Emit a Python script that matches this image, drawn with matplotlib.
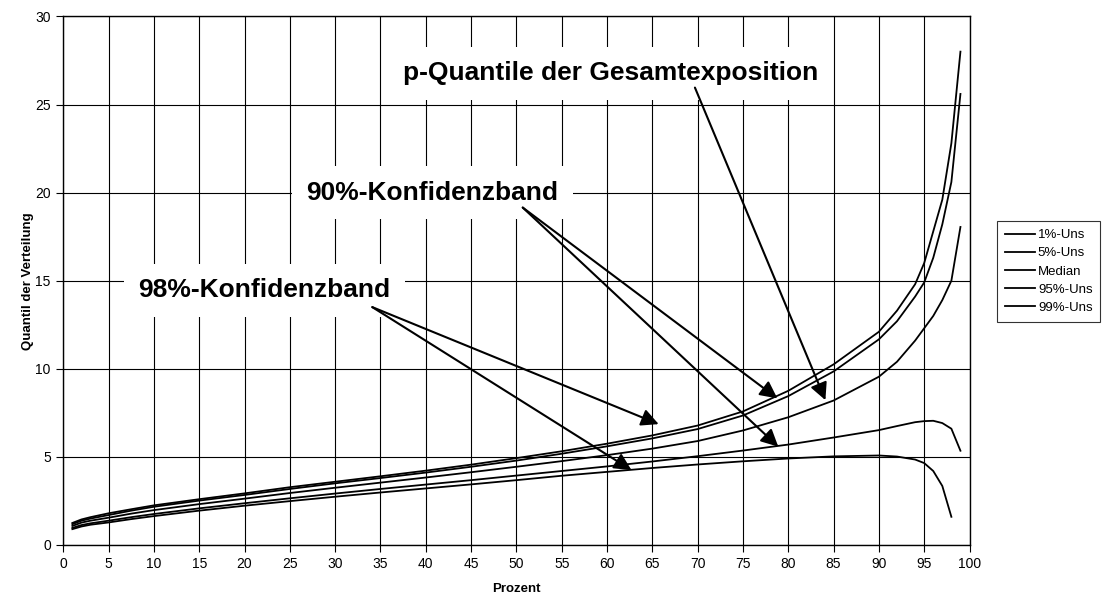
import matplotlib.pyplot as plt
from matplotlib.lines import Line2D

plt.rcParams['font.family'] = ['Liberation Sans', 'DejaVu Sans']

# Prozent-Stützstellen und Quantile je Kurve
prozent = [1, 2, 3, 5, 7.5, 10, 15, 20, 25, 30, 35, 40, 45, 50, 55, 60, 65, 70,
           75, 80, 85, 90, 92, 94, 95, 96, 97, 98, 99]

uns_99 = [1.25, 1.45, 1.58, 1.80, 2.03, 2.25, 2.60, 2.93, 3.28, 3.59, 3.90, 4.22,
          4.56, 4.93, 5.32, 5.75, 6.22, 6.78, 7.58, 8.75, 10.25, 12.10, 13.30,
          14.80, 16.00, 17.80, 19.60, 22.80, 28.00]
uns_95 = [1.18, 1.38, 1.50, 1.70, 1.95, 2.17, 2.52, 2.84, 3.18, 3.50, 3.80, 4.11,
          4.44, 4.79, 5.18, 5.60, 6.05, 6.58, 7.35, 8.45, 9.85, 11.67, 12.70,
          14.10, 14.90, 16.30, 18.20, 20.60, 25.60]
median = [1.08, 1.27, 1.38, 1.55, 1.78, 1.98, 2.32, 2.63, 2.95, 3.25, 3.54, 3.83,
          4.13, 4.44, 4.76, 5.10, 5.47, 5.90, 6.50, 7.25, 8.20, 9.55, 10.40,
          11.60, 12.30, 13.00, 13.90, 15.00, 18.05]
uns_5 = [0.97, 1.13, 1.23, 1.38, 1.58, 1.76, 2.08, 2.37, 2.65, 2.92, 3.18, 3.43,
         3.68, 3.94, 4.20, 4.46, 4.74, 5.04, 5.36, 5.70, 6.10, 6.52, 6.75,
         6.97, 7.03, 7.05, 6.92, 6.60, 5.35]
# 1%-Kurve endet bei 98 %
uns_1 = [0.90, 1.05, 1.15, 1.28, 1.47, 1.64, 1.95, 2.23, 2.49, 2.74, 2.98, 3.21,
         3.44, 3.68, 3.93, 4.15, 4.37, 4.57, 4.75, 4.91, 5.03, 5.08, 5.02,
         4.85, 4.65, 4.20, 3.35, 1.60]

series = [
    ('1%-Uns', prozent[:len(uns_1)], uns_1),
    ('5%-Uns', prozent, uns_5),
    ('Median', prozent, median),
    ('95%-Uns', prozent, uns_95),
    ('99%-Uns', prozent, uns_99),
]

W, H = 1102, 601
fig = plt.figure(figsize=(W / 100, H / 100), dpi=100)
ax = fig.add_axes([63.3 / W, 1 - 545 / H, (969.5 - 63.3) / W, (545 - 16.4) / H])

for name, xs, ys in series:
    ax.plot(xs, ys, color='black', lw=1.3, zorder=3)

ax.set_xlim(0, 100)
ax.set_ylim(0, 30)
ax.set_xticks(range(0, 101, 5))
ax.set_yticks(range(0, 31, 5))
ax.grid(True, color='black', lw=0.8, zorder=0)
ax.set_axisbelow(True)
for sp in ax.spines.values():
    sp.set_linewidth(1.0)
    sp.set_color('black')
ax.tick_params(direction='out', length=5, width=0.8, labelsize=10, pad=4)

ax.set_xlabel('Prozent', fontsize=9.5, fontweight='bold', labelpad=8)
ax.set_ylabel('Quantil der Verteilung', fontsize=9.5, fontweight='bold', labelpad=1)

# Beschriftungen mit weißem Hintergrund
box = dict(boxstyle='square,pad=0.55', facecolor='white', edgecolor='none')
label_kw = dict(fontsize=19, fontweight='bold', ha='center', va='center',
                bbox=box, zorder=4)
ax.text(60.4, 26.77, 'p-Quantile der Gesamtexposition', **label_kw)
ax.text(40.7, 20.0, '90%-Konfidenzband', **label_kw)
ax.text(22.2, 14.45, '98%-Konfidenzband', **label_kw)

arrow = dict(arrowstyle='-|>', color='black', lw=1.5, mutation_scale=26,
             shrinkA=0, shrinkB=0)
pfeile = [
    ((69.7, 25.96), (84.1, 8.22)),
    ((50.7, 19.15), (78.8, 8.32)),
    ((50.7, 19.15), (78.9, 5.58)),
    ((34.1, 13.5), (65.7, 6.86)),
    ((34.1, 13.5), (62.7, 4.25)),
]
for start, tip in pfeile:
    ax.annotate('', xy=tip, xytext=start, arrowprops=arrow, zorder=5)

handles = [Line2D([], [], color='black', lw=1.3) for _ in series]
leg = fig.legend(handles, [s[0] for s in series], loc='upper left',
                 bbox_to_anchor=(997 / W, 1 - 221 / H), fontsize=9.5,
                 frameon=True, fancybox=False, edgecolor='black',
                 handlelength=2.3, handletextpad=0.2, labelspacing=0.45,
                 borderpad=0.6, borderaxespad=0)
leg.get_frame().set_linewidth(0.8)

fig.savefig('out.png', dpi=100)
